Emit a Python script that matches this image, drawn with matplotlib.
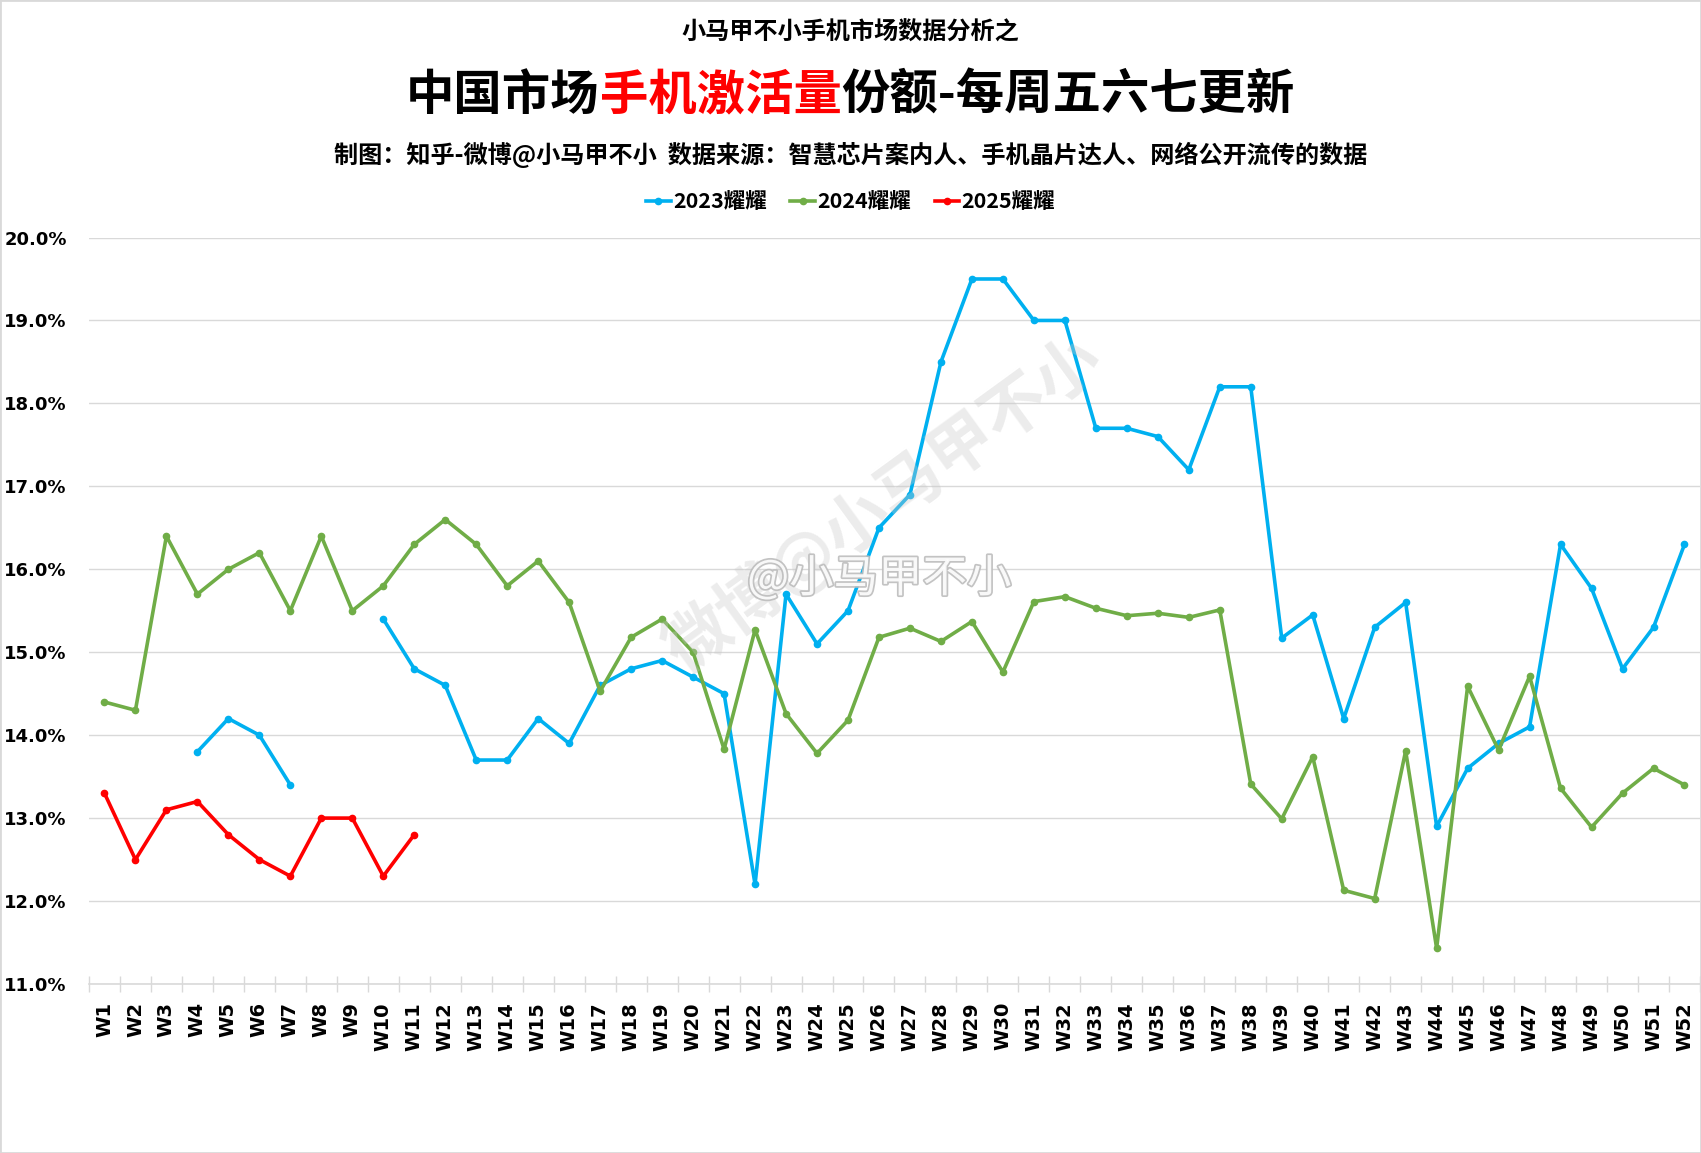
"""
China phone activation share by week - Honor 2023/2024/2025
"""

import numpy as np
import matplotlib
matplotlib.use('Agg')
import matplotlib.pyplot as plt
import matplotlib.patheffects as pe
from matplotlib.patches import Rectangle
from matplotlib.ticker import FixedLocator

CJK = ['Noto Sans CJK SC', 'DejaVu Sans']
nan = np.nan

# Data (share in %)
weeks = [f'W{i}' for i in range(1, 53)]

honor_2023 = [nan, nan, nan, 13.8, 14.2, 14.0, 13.4, nan, nan, 15.4,
              14.8, 14.6, 13.7, 13.7, 14.2, 13.9, 14.6, 14.8, 14.9, 14.7,
              14.5, 12.2, 15.7, 15.1, 15.5, 16.5, 16.9, 18.5, 19.5, 19.5,
              19.0, 19.0, 17.7, 17.7, 17.6, 17.2, 18.2, 18.2, 15.17, 15.45,
              14.2, 15.3, 15.6, 12.9, 13.6, 13.9, 14.1, 16.3, 15.77, 14.8,
              15.3, 16.3]

honor_2024 = [14.4, 14.3, 16.4, 15.7, 16.0, 16.2, 15.5, 16.4, 15.5, 15.8,
              16.3, 16.6, 16.3, 15.8, 16.1, 15.6, 14.53, 15.18, 15.4, 15.0,
              13.83, 15.27, 14.26, 13.78, 14.18, 15.18, 15.29, 15.13, 15.37, 14.76,
              15.61, 15.67, 15.53, 15.44, 15.47, 15.42, 15.51, 13.41, 12.99, 13.74,
              12.13, 12.03, 13.81, 11.43, 14.59, 13.82, 14.71, 13.36, 12.89, 13.3,
              13.6, 13.4]

honor_2025 = [13.3, 12.5, 13.1, 13.2, 12.8, 12.5, 12.3, 13.0, 13.0, 12.3,
              12.8]

series = [
    ('2023耀耀', honor_2023, '#00B0F0'),
    ('2024耀耀', honor_2024, '#70AD47'),
    ('2025耀耀', honor_2025, '#FF0000'),
]

y_ticks = [11.0, 12.0, 13.0, 14.0, 15.0, 16.0, 17.0, 18.0, 19.0, 20.0]


def main():
    fig = plt.figure(figsize=(17.01, 11.53), dpi=100)
    fig.patch.set_facecolor('white')
    ax = fig.add_axes([0.0523, 0.1466, 0.9471, 0.6474])

    x = np.arange(len(weeks))
    for name, vals, color in series:
        v = np.array(vals, dtype=float)
        ax.plot(x[:len(v)], v, color=color, lw=2.6, marker='o', ms=4.5,
                label=name, solid_joinstyle='round')

    ax.set_xlim(-0.5, len(weeks) - 0.5)
    ax.set_ylim(y_ticks[0], y_ticks[-1])
    ax.set_yticks(y_ticks)
    ax.set_yticklabels([f'{t:.1f}%' for t in y_ticks], fontsize=13,
                       fontweight='bold', family='DejaVu Sans')
    ax.set_xticks(x)
    ax.set_xticklabels(weeks, rotation=90, fontsize=14, fontweight='bold',
                       family='DejaVu Sans')
    ax.xaxis.set_minor_locator(FixedLocator(np.arange(-0.5, len(weeks), 1.0)))
    ax.tick_params(axis='x', which='major', length=0, pad=13)
    ax.tick_params(axis='x', which='minor', length=11, direction='inout',
                   color='#d9d9d9', width=1)
    ax.tick_params(axis='y', length=0, pad=16)

    ax.grid(axis='y', color='#d9d9d9', lw=1)
    ax.set_axisbelow(True)
    for s in ['top', 'right', 'left']:
        ax.spines[s].set_visible(False)
    ax.spines['bottom'].set_color('#d9d9d9')
    ax.spines['bottom'].set_linewidth(1.2)

    # Watermarks
    fig.text(0.519, 0.563, '微博@小马甲不小', fontsize=47, fontweight='bold',
             family=CJK, color='#c8c8c8', alpha=0.35, rotation=36,
             ha='center', va='center')
    fig.text(0.517, 0.498, '@小马甲不小', fontsize=32, family=CJK,
             color='white', ha='center', va='center', alpha=0.9,
             path_effects=[pe.withStroke(linewidth=2.5, foreground='#bdbdbd')])

    # Titles
    fig.text(0.5, 1 - 33 / 1153, '小马甲不小手机市场数据分析之', fontsize=17.4,
             fontweight='bold', family=CJK, ha='center', va='center')
    fig.text(0.5, 1 - 155 / 1153,
             '制图：知乎-微博@小马甲不小  数据来源：智慧芯片案内人、手机晶片达人、网络公开流传的数据',
             fontsize=17.4, fontweight='bold', family=CJK, ha='center', va='center')

    # Main title with red middle part
    parts = [('中国市场', 'black'), ('手机激活量', '#FF0000'), ('份额-每周五六七更新', 'black')]
    renderer = fig.canvas.get_renderer()
    title_y = 1 - 95 / 1153
    texts = []
    for s, c in parts:
        t = fig.text(0, title_y, s, fontsize=34.8, fontweight='bold', family=CJK,
                     color=c, ha='left', va='center')
        texts.append(t)
    widths = [t.get_window_extent(renderer).width / fig.bbox.width for t in texts]
    start = 0.5 - sum(widths) / 2
    for t, w in zip(texts, widths):
        t.set_x(start)
        start += w

    # Legend
    handles, labels = ax.get_legend_handles_labels()
    fig.legend(handles, labels, loc='center', bbox_to_anchor=(0.5, 1 - 202 / 1153),
               ncol=3, frameon=False, handlelength=1.15, columnspacing=1.1,
               handletextpad=0.1, prop={'family': CJK, 'weight': 'bold', 'size': 15.5})

    # Outer frame
    fig.patches.append(Rectangle((0, 0), 1, 1, transform=fig.transFigure,
                                 fill=False, edgecolor='#d9d9d9', lw=2))

    fig.savefig('out.png', dpi=100)


if __name__ == '__main__':
    main()
